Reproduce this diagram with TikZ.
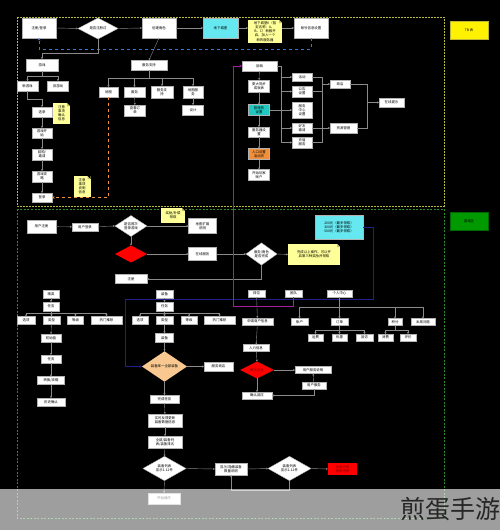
\documentclass[tikz,border=0pt]{standalone}
\usepackage{fontspec}
\setmainfont{Noto Sans CJK SC}
\usetikzlibrary{arrows.meta,shapes.geometric}
\newcommand\ft{\fontsize{3.4}{4.1}\selectfont}
\newcommand\bx[6]{\node[#1,minimum width=#4pt,minimum height=#5pt] (#2) at #3 {#6};}
\newcommand\fold[1]{\fill[black] (#1.north east) ++(-3,0) -- ++(3,0) -- ++(0,3) -- cycle;
  \fill[yellow!50!gray] (#1.north east) ++(-3,0) -- ++(0,3) -- ++(3,0) -- cycle;}
\definecolor{cyA}{HTML}{66E8F0}
\definecolor{cyB}{HTML}{22C8C0}
\definecolor{ntY}{HTML}{FFFF99}
\definecolor{orB}{HTML}{F0903C}
\definecolor{orD}{HTML}{F8C890}
\definecolor{frY}{HTML}{B8B840}
\definecolor{frG}{HTML}{2E8B2E}
\definecolor{blD}{HTML}{3C78D8}
\definecolor{mgL}{HTML}{A020A0}
\definecolor{nvL}{HTML}{20208A}
\definecolor{lnG}{HTML}{8A8A8A}
\tikzset{
  base/.style={inner sep=0.3pt,outer sep=0pt,align=center,font=\ft,text=black},
  wb/.style={base,draw=gray!60,fill=white},
  cy/.style={base,draw=gray!60,fill=cyA},
  cyd/.style={base,draw=gray!60,fill=cyB},
  orb/.style={base,draw=gray!60,fill=orB},
  nt/.style={base,fill=ntY},
  yb/.style={base,fill=yellow,draw=yellow!70!black},
  gb/.style={base,fill=green!60!black,draw=green!40!black},
  rb/.style={base,fill=red,text=red!50!black},
  wd/.style={base,diamond,fill=white,draw=gray!60,inner sep=0pt},
  rdm/.style={base,diamond,fill=red,inner sep=0pt,text=red!50!black},
  odm/.style={base,diamond,fill=orD,inner sep=0pt},
  ln/.style={draw=lnG,line width=0.4pt},
  ar/.style={ln,-{Stealth[length=2pt,width=2pt]}},
  bld/.style={draw=blD,line width=0.6pt,dashed,-{Stealth[length=2.5pt,width=2.5pt]}},
  ord/.style={draw=orB,line width=0.6pt,dashed,-{Stealth[length=2.5pt,width=2.5pt]}},
  mgl/.style={draw=mgL,line width=0.6pt,-{Stealth[length=2.5pt,width=2.5pt]}},
  nvl/.style={draw=nvL,line width=0.6pt,-{Stealth[length=2.5pt,width=2.5pt]}},
  frA/.style={draw=frY,line width=0.9pt,dash pattern=on 2pt off 1pt},
  frB/.style={draw=frG,line width=0.7pt,dash pattern=on 2pt off 1.5pt}
}
\begin{document}
\begin{tikzpicture}[x=1pt,y=-1pt]
\useasboundingbox (0,0) rectangle (500,530);
\fill[black] (0,0) rectangle (500,530);
% frames
\draw[frA] (17,17) rectangle (444,206);
\draw[frB] (17,209) rectangle (444,518);
\bx{yb}{tb}{(469,30)}{38}{18}{TB 表}
\bx{gb}{gz}{(469,221)}{38}{18}{游戏区}

% ---------- top row
\bx{wb}{a1}{(39,28)}{34}{20}{注册/登录}
\node[wd,minimum width=40pt,minimum height=21pt] (d1) at (98,28.5) {是否注册过};
\bx{wb}{a2}{(159,28)}{34}{20}{创建角色}
\bx{cy}{a3}{(220.5,28)}{35}{20}{地下城堡}
\bx{nt}{n1}{(265,31.5)}{34}{23}{地下城堡II（暂\\定名称：A、\\B、C）新服开\\启，加入一个\\新的服务器}
\fold{n1}
\bx{wb}{a4}{(311,28)}{34}{20}{账号信息设置}
\draw[ar] (a1.east) -- (d1.west);
\draw[ar] (d1.east) -- (a2.west);
\draw[ar] (a2.east) -- (a3.west);
\draw[ar] (a3.east) -- (n1.west|-a3.east);
\draw[ar] (n1.east|-a4.west) -- (a4.west);
\draw[bld] (a4.south) -- (311,49) -- (39,49) -- (a1.south);

% ---------- left column
\bx{wb}{L0}{(42,65)}{32}{12}{游戏}
\bx{wb}{g1}{(27.5,86)}{21}{10}{新游戏}
\bx{wb}{g2}{(58,86)}{21}{10}{旧游戏}
\draw[ar] (d1.south) -- (98,53) -| (L0.north);
\draw[ar] (L0.south) -- ++(0,5) -| (g1.north);
\draw[ar] (L0.south) -- ++(0,5) -| (g2.north);
\bx{wb}{c1}{(42,112)}{20}{10}{选录}
\bx{nt}{n2}{(61.5,113.5)}{17}{21}{注意\\事项\\确认\\信息}
\fold{n2}
\bx{wb}{c2}{(42,133)}{20}{10}{游戏开\\始}
\bx{wb}{c3}{(42,154.5)}{20}{11}{回购/\\邀请}
\bx{wb}{c4}{(42,176.5)}{20}{11}{游戏攻\\略}
\bx{wb}{c5}{(42,197.5)}{20}{9}{登录}
\bx{nt}{n3}{(82,186.5)}{17}{21}{注意\\事项\\说明\\信息}
\fold{n3}
\draw[ar] (g1.south) -- ++(0,8) -| (c1.north);
\draw[ar] (c1) -- (c2);
\draw[ar] (c2) -- (c3);
\draw[ar] (c3) -- (c4);
\draw[ar] (c4) -- (c5);

% ---------- service support
\bx{wb}{s1}{(149,65)}{36}{10}{服务支持}
\bx{wb}{t1}{(108.5,92)}{19}{10}{地图}
\bx{wb}{t2}{(134.5,92)}{21}{10}{服务}
\bx{wb}{t3}{(162,92)}{22}{12}{服务支\\持}
\bx{wb}{t4}{(193,92)}{20}{12}{地图服\\务}
\bx{wb}{t5}{(135,110.5)}{21}{11}{查看订\\单}
\bx{wb}{t6}{(193,110)}{21}{10}{设计}
\draw[ar] (a2.south) -- (s1.north);
\foreach \t in {t1,t2,t3,t4} \draw[ar] (s1.south) -- ++(0,8) -| (\t.north);
\draw[ar] (t2) -- (t5);
\draw[ar] (t4) -- (t6);
\draw[ord] (t1.south) |- (c5.east);

% ---------- right column
\bx{wb}{r0}{(259.5,66)}{35}{10}{回档}
\bx{wb}{r1}{(259,86)}{21}{12}{更大同步\\成就表}
\bx{cyd}{r2}{(259,110)}{21}{11}{管理员\\设置}
\bx{wb}{r3}{(259,132)}{21}{10}{服务器设\\置}
\bx{orb}{r4}{(259,154)}{21}{11}{入口设置\\活动页}
\bx{wb}{r5}{(259,175)}{21}{11}{开始玩家\\账户}
\draw[ar] (r0) -- (r1);
\draw[ar] (r1) -- (r2);
\draw[ar] (r2) -- (r3);
\draw[ar] (r3) -- (r4);
\draw[ar] (r4) -- (r5);
\bx{wb}{q1}{(302,77)}{20}{8}{活动}
\bx{wb}{q2}{(302,91.5)}{20}{11}{公告\\设置}
\bx{wb}{q3}{(302,110)}{20}{16}{服务\\中心\\设置}
\bx{wb}{q4}{(302,128)}{20}{10}{好友\\邀请}
\bx{wb}{q5}{(302,142.5)}{20}{11}{充值\\服务}
\draw[ar] (r2.east) -- (q3.west);
\draw[ln] (r0.east) -| (281,142.5);
\foreach \q in {q1,q2,q4,q5} \draw[ar] (281,0|-\q.west) -- (\q.west);
\foreach \q in {q1,q2,q4,q5} \draw[ln] (\q.east) -- (322,0|-\q.east);
\draw[ln] (322,77) -- (322,142.5);
\bx{wb}{sh}{(340,84)}{20}{8}{商店}
\bx{wb}{rs}{(343.5,128)}{27}{10}{资源管理}
\bx{wb}{tp}{(391.5,102.5)}{25}{9}{在线提示}
\draw[ar] (322,84) -- (sh.west);
\draw[ar] (322,128) -- (rs.west);
\draw[ln] (sh.east) -- (367,84) -- (367,128) -- (rs.east);
\draw[ar] (367,102.5) -- (tp.west);

% ---------- second section top
\bx{wb}{u1}{(41.5,226.5)}{29}{13}{用户注册}
\bx{wb}{u2}{(85,227)}{26}{8}{用户登录}
\node[wd,minimum width=32pt,minimum height=17pt] (dd1) at (131,226) {是否首次\\登录游戏};
\node[rdm,minimum width=32pt,minimum height=17pt] (rd1) at (131,254) {};
\bx{wb}{reg}{(131,279)}{32}{9}{注册}
\bx{nt}{n4}{(173,215.5)}{24}{15}{奖励/补偿\\领取}
\fold{n4}
\bx{wb}{b1}{(202.5,226)}{28}{15}{地图扩展\\说明}
\bx{wb}{b2}{(202.5,254)}{28}{13}{在线服务}
\node[wd,minimum width=31pt,minimum height=22pt] (dd2) at (261.5,254) {服务/角色\\是否完成};
\bx{nt}{n5}{(314,254.5)}{52}{21}{完成以上操作，可以开\\启第三种奖励并领取}
\fold{n5}
\bx{cy}{cy2}{(339,227)}{48}{24}{200元（最多领取）\\300元（最多领取）\\500元（最多领取）}
\draw[ar] (u1) -- (u2);
\draw[ar] (u2) -- (dd1.west);
\draw[ar] (dd1.east) -- (b1.west);
\draw[ar] (dd1.south) -- (rd1.north);
\draw[ar] (rd1.east) -- (b2.west);
\draw[ar] (b2.east) -- (dd2.west);
\draw[ar] (dd2.east) -- (n5.west);
\draw[ar] (dd2.south) |- (reg.east);

% ---------- left group
\bx{wb}{e1}{(51,294)}{16}{8}{精英}
\bx{wb}{e2}{(51,306.5)}{16}{9}{任务}
\bx{wb}{ea}{(26,320.5)}{18}{8}{选项}
\bx{wb}{eb}{(51.5,320.5)}{17}{8}{类型}
\bx{wb}{ec}{(75.5,320.5)}{16}{8}{等级}
\bx{wb}{ed}{(106.5,320.5)}{31}{8}{热门推荐}
\bx{wb}{e3}{(51,338)}{20}{8}{初始值}
\bx{wb}{e4}{(51,359)}{20}{8}{任务}
\bx{wb}{e5}{(51,380.5)}{27}{8}{转换/攻略}
\bx{wb}{e6}{(51,402)}{28}{8}{历史确认}
\draw[ar] (e1) -- (e2);
\foreach \b in {ea,eb,ec,ed} \draw[ar] (e2.south) -- ++(0,2.5) -| (\b.north);
\draw[ar] (eb) -- (e3);
\draw[ar] (e3) -- (e4);
\draw[ar] (e4) -- (e5);
\draw[ar] (e5) -- (e6);

% ---------- middle group
\bx{wb}{m1}{(164.5,294)}{17}{8}{装备}
\bx{wb}{m2}{(164.5,306.5)}{17}{9}{任务}
\bx{wb}{ma}{(140,320.5)}{16}{8}{选项}
\bx{wb}{mb}{(164.5,320.5)}{17}{8}{类型}
\bx{wb}{mc}{(189,320.5)}{16}{8}{等级}
\bx{wb}{md}{(219.5,320.5)}{31}{8}{热门推荐}
\bx{wb}{m3}{(164.5,338)}{18}{9}{装备}
\node[odm,minimum width=45pt,minimum height=19pt] (od) at (164.5,366.5) {装备库一全部装备};
\bx{wb}{m4}{(218.5,366.5)}{29}{9}{服务商店}
\bx{wb}{m5}{(164.5,399)}{29}{8}{完成任务}
\bx{wb}{m6}{(165,420.5)}{34}{13}{实时反馈更新\\装备数据信息}
\bx{wb}{m7}{(165,442)}{34}{12}{全部/装备列\\表/装备排名}
\node[wd,minimum width=43pt,minimum height=19pt] (wd1) at (164.5,468.5) {装备列表\\显示1-12件};
\bx{wb}{m8}{(231,469)}{32}{12}{显示/隐藏装备\\数量说明}
\bx{wb}{m9}{(164,498.5)}{32}{11}{开始操作}
\node[wd,minimum width=43pt,minimum height=21pt] (wd2) at (289.5,468.5) {装备列表\\显示1-12件};
\bx{rb}{rx}{(342.5,469)}{29}{12}{返回列表\\重新选择}
\draw[ar] (m1) -- (m2);
\foreach \b in {ma,mb,mc,md} \draw[ar] (m2.south) -- ++(0,2.5) -| (\b.north);
\draw[ar] (mb) -- (m3);
\draw[ar] (m3) -- (od.north);
\draw[ar] (od.east) -- (m4.west);
\draw[ar] (od.south) -- (m5.north);
\draw[ar] (m5) -- (m6);
\draw[ar] (m6) -- (m7);
\draw[ar] (m7) -- (wd1.north);
\draw[ar] (wd1.east) -- (m8.west);
\draw[ar] (wd1.south) -- (m9.north);
\draw[ar] (m8.east) -- (wd2.west);
\draw[ar] (wd2.east) -- (rx.west);
\draw[ar] (wd2.south) -- ++(0,9.5) -| (m8.south);
\draw[nvl] (cy2.east) -- (373,227) -- (373,299) -- (125,299) |- (od.west);

% ---------- right group
\bx{wb}{p1}{(256.5,293.5)}{17}{7}{排位}
\bx{wb}{p2}{(293.5,293.5)}{17}{7}{团队}
\bx{wb}{p3}{(339.5,293.5)}{25}{7}{个人中心}
\bx{wb}{p4}{(257.5,321.5)}{31}{7}{申请商户信息}
\bx{wb}{p5}{(256,348)}{26}{7}{入力信息}
\node[rdm,minimum width=34pt,minimum height=16pt] (rd2) at (257,370) {确认信息};
\bx{wb}{p6}{(313,370)}{36}{7}{用户服务说明}
\bx{wb}{p7}{(314,385.5)}{24}{7}{用户服务}
\bx{wb}{p8}{(257,395.5)}{30}{7}{确认回应}
\draw[ar] (p1) -- (p4);
\draw[ar] (p4) -- (p5);
\draw[ar] (p5) -- (rd2.north);
\draw[ar] (rd2.east) -- (p6.west);
\draw[ar] (rd2.south) -- (p8.north);
\draw[ar] (p7) -- (p6);
\draw[ar] (p7.south) |- (p8.east);
\draw[mgl] (p2.south) -- (293.5,306) -- (233,306) -- (233,66) -- (r0.west);
\bx{wb}{p9}{(299.5,322)}{17}{7}{账户}
\bx{wb}{p10}{(339.5,322)}{17}{7}{订单}
\bx{wb}{p11}{(395,322)}{14}{7}{积分}
\bx{wb}{p12}{(423,322)}{24}{7}{本周问题}
\foreach \b in {p9,p10,p11,p12} \draw[ar] (p3.south) -- ++(0,10) -| (\b.north);
\bx{wb}{x1}{(315.5,337.5)}{15}{7}{运费}
\bx{wb}{x2}{(339.5,337.5)}{15}{7}{优惠}
\bx{wb}{x3}{(364.5,337.5)}{17}{7}{回访}
\bx{wb}{x4}{(385.5,337.5)}{15}{7}{消费}
\bx{wb}{x5}{(408,337.5)}{16}{7}{评价}
\foreach \b in {x1,x2,x3} \draw[ar] (p10.south) -- ++(0,5) -| (\b.north);
\foreach \b in {x4,x5} \draw[ar] (p11.south) -- ++(0,5) -| (\b.north);

% ---------- watermark band
\fill[white,opacity=0.62] (0,489) rectangle (500,530);
\node[anchor=east,inner sep=0pt,text=black!85,font=\fontsize{25}{25}\selectfont] (wm) at (501,509) {煎蛋手游};
\end{tikzpicture}
\end{document}
